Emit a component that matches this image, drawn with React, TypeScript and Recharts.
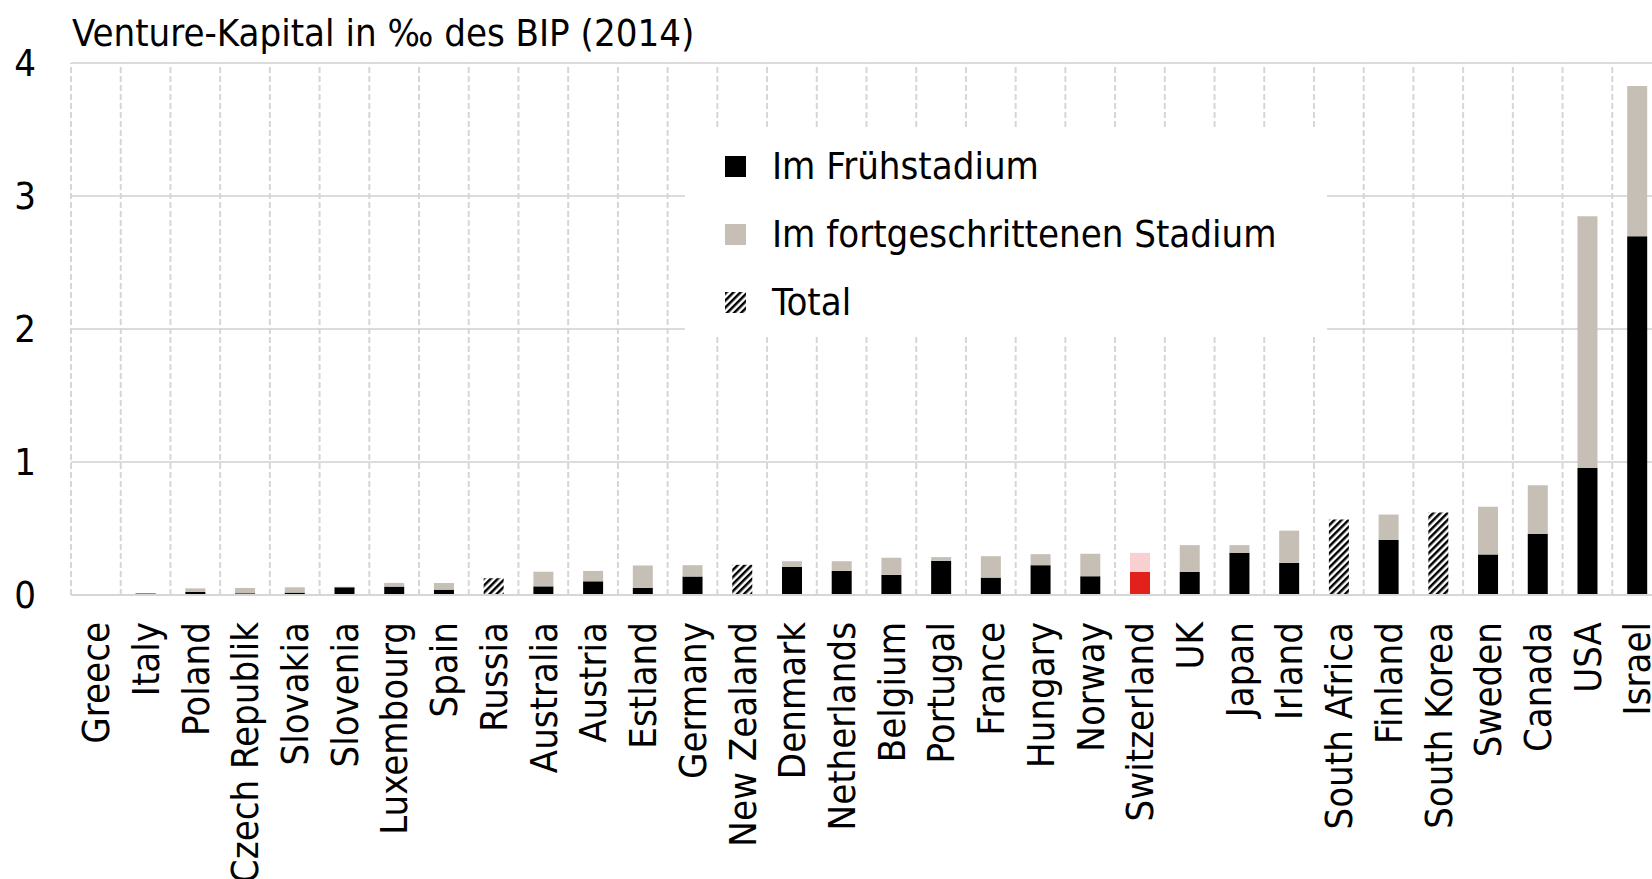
import React from 'react';
import { BarChart, Bar, XAxis, YAxis, CartesianGrid, ReferenceLine, Legend, Cell } from 'recharts';

const FONT = "'Liberation Sans Narrow', 'DejaVu Sans Condensed', 'Liberation Sans', sans-serif";

const countries = [
  'Greece', 'Italy', 'Poland', 'Czech Republik', 'Slovakia', 'Slovenia', 'Luxembourg', 'Spain',
  'Russia', 'Australia', 'Austria', 'Estland', 'Germany', 'New Zealand', 'Denmark', 'Netherlands',
  'Belgium', 'Portugal', 'France', 'Hungary', 'Norway', 'Switzerland', 'UK', 'Japan', 'Irland',
  'South Africa', 'Finland', 'South Korea', 'Sweden', 'Canada', 'USA', 'Israel',
];

const earlyStage = [
  0, 0.012, 0.023, 0.013, 0.018, 0.058, 0.063, 0.04,
  0, 0.065, 0.103, 0.053, 0.139, 0, 0.212, 0.181,
  0.151, 0.257, 0.131, 0.224, 0.141, 0.174, 0.174, 0.317, 0.242,
  0, 0.416, 0, 0.305, 0.46, 0.955, 2.698,
];

const laterStage = [
  0, 0.003, 0.027, 0.04, 0.04, 0.004, 0.028, 0.05,
  0, 0.11, 0.078, 0.169, 0.085, 0, 0.042, 0.073,
  0.129, 0.028, 0.161, 0.083, 0.169, 0.143, 0.201, 0.058, 0.242,
  0, 0.189, 0, 0.358, 0.365, 1.893, 1.13,
];

const totalOnly = [
  0, 0, 0, 0, 0, 0, 0, 0,
  0.126, 0, 0, 0, 0, 0.227, 0, 0,
  0, 0, 0, 0, 0, 0, 0, 0, 0,
  0.567, 0, 0.62, 0, 0, 0, 0,
];

const yTicks = [0, 1, 2, 3, 4];
const highlight = 'Switzerland';

const legendItems = [
  { key: 'early', label: 'Im Frühstadium', fill: '#000000' },
  { key: 'late', label: 'Im fortgeschrittenen Stadium', fill: '#c6bfb5' },
  { key: 'total', label: 'Total', fill: 'url(#hatch)' },
];

const data = countries.map((c, i) => ({
  country: c,
  early: earlyStage[i],
  late: laterStage[i],
  total: totalOnly[i],
}));

const XTick = (props: any) => {
  const { x, y, payload } = props;
  return (
    <g transform={`translate(${x},${y})`}>
      <text transform="rotate(-90)" textAnchor="end" dy="0.35em" fontSize={38} fontFamily={FONT} fill="#000">
        {payload.value}
      </text>
    </g>
  );
};

const renderLegend = () => (
  <div style={{ position: 'relative', width: '100%', height: '100%', background: '#fff', fontFamily: FONT, fontSize: 38, color: '#000' }}>
    {legendItems.map((item, i) => (
      <div
        key={item.key}
        style={{ position: 'absolute', left: 40, top: 39 + i * 68 - 22, height: 44, display: 'flex', alignItems: 'center', whiteSpace: 'nowrap' }}
      >
        <svg width={21} height={21} style={{ display: 'block' }}>
          <rect x={0} y={0} width={21} height={21} fill={item.fill} />
        </svg>
        <span style={{ marginLeft: 26, lineHeight: '44px' }}>{item.label}</span>
      </div>
    ))}
  </div>
);

export default function App() {
  return (
    <div style={{ position: 'absolute', left: 0, top: 0, width: 1652, height: 879, overflow: 'hidden', background: '#fff' }}>
      <div style={{ position: 'absolute', left: 72, top: 14, fontFamily: FONT, fontSize: 38, lineHeight: '38px', color: '#000', whiteSpace: 'nowrap' }}>
        Venture-Kapital in ‰ des BIP (2014)
      </div>
      <BarChart
        width={1662}
        height={879}
        data={data}
        margin={{ top: 63, right: 0, bottom: 0, left: 0 }}
        barCategoryGap="30%"
      >
        <defs>
          <pattern id="hatch" width={5} height={5} patternUnits="userSpaceOnUse" patternTransform="rotate(45)">
            <rect x={0} y={0} width={5} height={5} fill="#fff" />
            <rect x={0} y={0} width={2.5} height={5} fill="#000" />
          </pattern>
        </defs>
        <CartesianGrid vertical={false} stroke="#dcdcdc" strokeWidth={2} />
        {countries.map((c) => (
          <ReferenceLine key={c} x={c} position="start" stroke="#d6d6d6" strokeWidth={2} strokeDasharray="6 3" />
        ))}
        <XAxis
          dataKey="country"
          interval={0}
          tickLine={false}
          axisLine={{ stroke: '#d6d6d6', strokeWidth: 2 }}
          height={284}
          tickMargin={21}
          tick={<XTick />}
        />
        <YAxis
          width={71}
          domain={[0, 4]}
          ticks={yTicks}
          tickLine={false}
          axisLine={false}
          tickMargin={29}
          tick={{ fontSize: 38, fill: '#000', fontFamily: FONT }}
        />
        <Legend
          layout="vertical"
          align="center"
          verticalAlign="middle"
          wrapperStyle={{ left: 685, top: 127, width: 642, height: 210 }}
          content={renderLegend}
        />
        <Bar dataKey="early" stackId="a" fill="#000" isAnimationActive={false}>
          {data.map((d) => (
            <Cell key={d.country} fill={d.country === highlight ? '#e2211c' : '#000'} />
          ))}
        </Bar>
        <Bar dataKey="late" stackId="a" fill="#c6bfb5" isAnimationActive={false}>
          {data.map((d) => (
            <Cell key={d.country} fill={d.country === highlight ? '#f8d0d0' : '#c6bfb5'} />
          ))}
        </Bar>
        <Bar dataKey="total" stackId="a" fill="url(#hatch)" isAnimationActive={false} />
      </BarChart>
    </div>
  );
}
